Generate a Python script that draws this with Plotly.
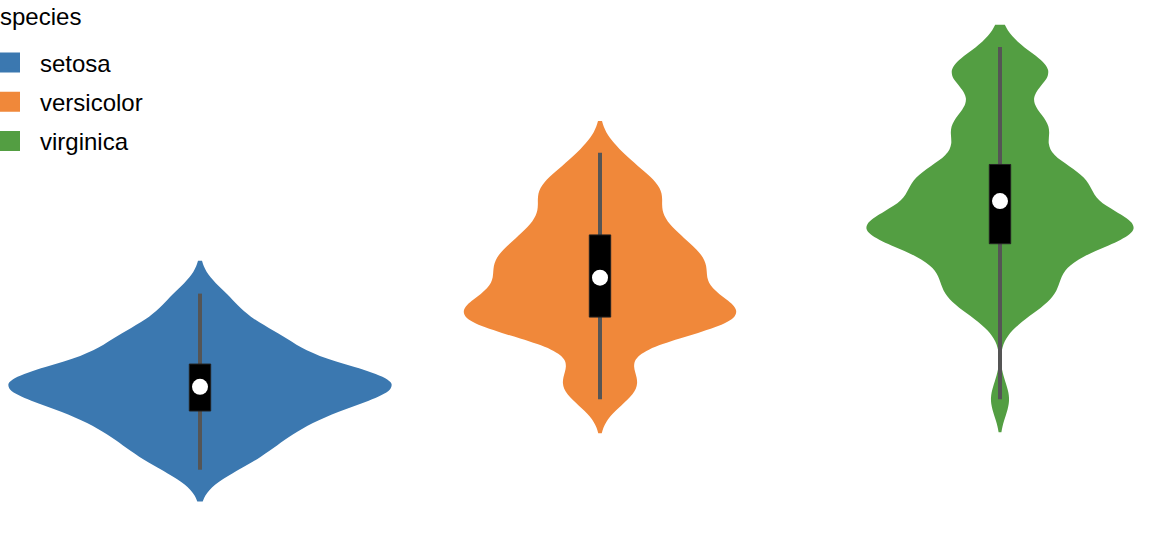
import numpy as np
import plotly.graph_objects as go

species = ["setosa", "versicolor", "virginica"]
colors = ["#3b78b0", "#f0883a", "#539e42"]

setosa = [5.1, 4.9, 4.7, 4.6, 5.0, 5.4, 4.6, 5.0, 4.4, 4.9, 5.4, 4.8, 4.8, 4.3, 5.8,
          5.7, 5.4, 5.1, 5.7, 5.1, 5.4, 5.1, 4.6, 5.1, 4.8, 5.0, 5.0, 5.2, 5.2, 4.7,
          4.8, 5.4, 5.2, 5.5, 4.9, 5.0, 5.5, 4.9, 4.4, 5.1, 5.0, 4.5, 4.4, 5.0, 5.1,
          4.8, 5.1, 4.6, 5.3, 5.0]
versicolor = [7.0, 6.4, 6.9, 5.5, 6.5, 5.7, 6.3, 4.9, 6.6, 5.2, 5.0, 5.9, 6.0, 6.1, 5.6,
              6.7, 5.6, 5.8, 6.2, 5.6, 5.9, 6.1, 6.3, 6.1, 6.4, 6.6, 6.8, 6.7, 6.0, 5.7,
              5.5, 5.5, 5.8, 6.0, 5.4, 6.0, 6.7, 6.3, 5.6, 5.5, 5.5, 6.1, 5.8, 5.0, 5.6,
              5.7, 5.7, 6.2, 5.1, 5.7]
virginica = [6.3, 5.8, 7.1, 6.3, 6.5, 7.6, 4.9, 7.3, 6.7, 7.2, 6.5, 6.4, 6.8, 5.7, 5.8,
             6.4, 6.5, 7.7, 7.7, 6.0, 6.9, 5.6, 7.7, 6.3, 6.7, 7.2, 6.2, 6.1, 6.4, 7.2,
             7.4, 7.9, 6.4, 6.3, 6.1, 7.7, 6.3, 6.4, 6.0, 6.9, 6.7, 6.9, 5.8, 6.8, 6.7,
             6.7, 6.3, 6.5, 6.2, 5.9]
values = [setosa, versicolor, virginica]

# density extent of each violin
span_low = [4.03, 4.61, 4.62]
span_high = [6.08, 7.27, 8.09]

BANDWIDTH = 0.145
W, H = 1157, 556
PX_PER_X = 400.0          # pixels per category step
MAX_WIDTH = 383 / PX_PER_X
BOX_HALF = 10.7 / PX_PER_X


def peak_density(v, bw):
    grid = np.linspace(v.min(), v.max(), 2001)
    d = np.exp(-0.5 * ((grid[:, None] - v[None, :]) / bw) ** 2).sum(axis=1)
    return d.max() / (len(v) * bw * np.sqrt(2 * np.pi))


peaks = [peak_density(np.array(v), BANDWIDTH) for v in values]
max_peak = max(peaks)

fig = go.Figure()

for i, (name, vals, col) in enumerate(zip(species, values, colors)):
    v = np.array(vals)
    fig.add_trace(go.Violin(
        x=[i] * len(v), y=v, name=name, showlegend=False,
        fillcolor=col, line=dict(width=0, color=col),
        points=False, box_visible=False, meanline_visible=False,
        bandwidth=BANDWIDTH, spanmode="manual", span=[span_low[i], span_high[i]],
        scalemode="width", width=MAX_WIDTH * peaks[i] / max_peak,
        hoverinfo="skip",
    ))

for i, (name, vals, col) in enumerate(zip(species, values, colors)):
    v = np.array(vals)
    q1, q3 = np.percentile(v, [25, 75])
    fig.add_trace(go.Scatter(
        x=[i, i], y=[v.min(), v.max()], mode="lines",
        line=dict(color="#555555", width=4), showlegend=False, hoverinfo="skip"))
    fig.add_trace(go.Scatter(
        x=[i - BOX_HALF, i + BOX_HALF, i + BOX_HALF, i - BOX_HALF, i - BOX_HALF],
        y=[q1, q1, q3, q3, q1], mode="lines", fill="toself", fillcolor="black",
        line=dict(color="#222222", width=1), showlegend=False, hoverinfo="skip"))
    fig.add_trace(go.Scatter(
        x=[i], y=[v.mean()], mode="markers",
        marker=dict(color="white", size=16, line=dict(width=0)),
        showlegend=False, hoverinfo="skip"))

for name, col in zip(species, colors):
    fig.add_trace(go.Scatter(
        x=[None], y=[None], mode="markers", name=name, legendgroup=name,
        marker=dict(symbol="square", size=16, color=col, line=dict(color=col, width=4)),
    ))

fig.add_annotation(
    text="species", xref="paper", yref="paper", x=-2 / W, y=1 - 16.5 / H,
    xanchor="left", yanchor="middle", showarrow=False,
    font=dict(size=24, color="black"),
)

fig.update_layout(
    width=W, height=H,
    margin=dict(l=0, r=0, t=0, b=0, autoexpand=False),
    plot_bgcolor="white", paper_bgcolor="white",
    violinmode="overlay",
    font=dict(family="Liberation Sans, Arial, sans-serif", size=24, color="black"),
    xaxis=dict(range=[-200 / PX_PER_X, (W - 200) / PX_PER_X], visible=False, fixedrange=True),
    yaxis=dict(range=[3.565, 8.301], visible=False, fixedrange=True),
    legend=dict(
        x=-20 / W, y=1 - 40.5 / H, xanchor="left", yanchor="top",
        itemwidth=50, traceorder="grouped", tracegroupgap=5,
        font=dict(size=24), bgcolor="rgba(0,0,0,0)",
    ),
)

fig.write_html(
    "out.html",
    config={"displayModeBar": False},
    post_script="document.body.style.margin='0';document.body.style.padding='0';",
)
